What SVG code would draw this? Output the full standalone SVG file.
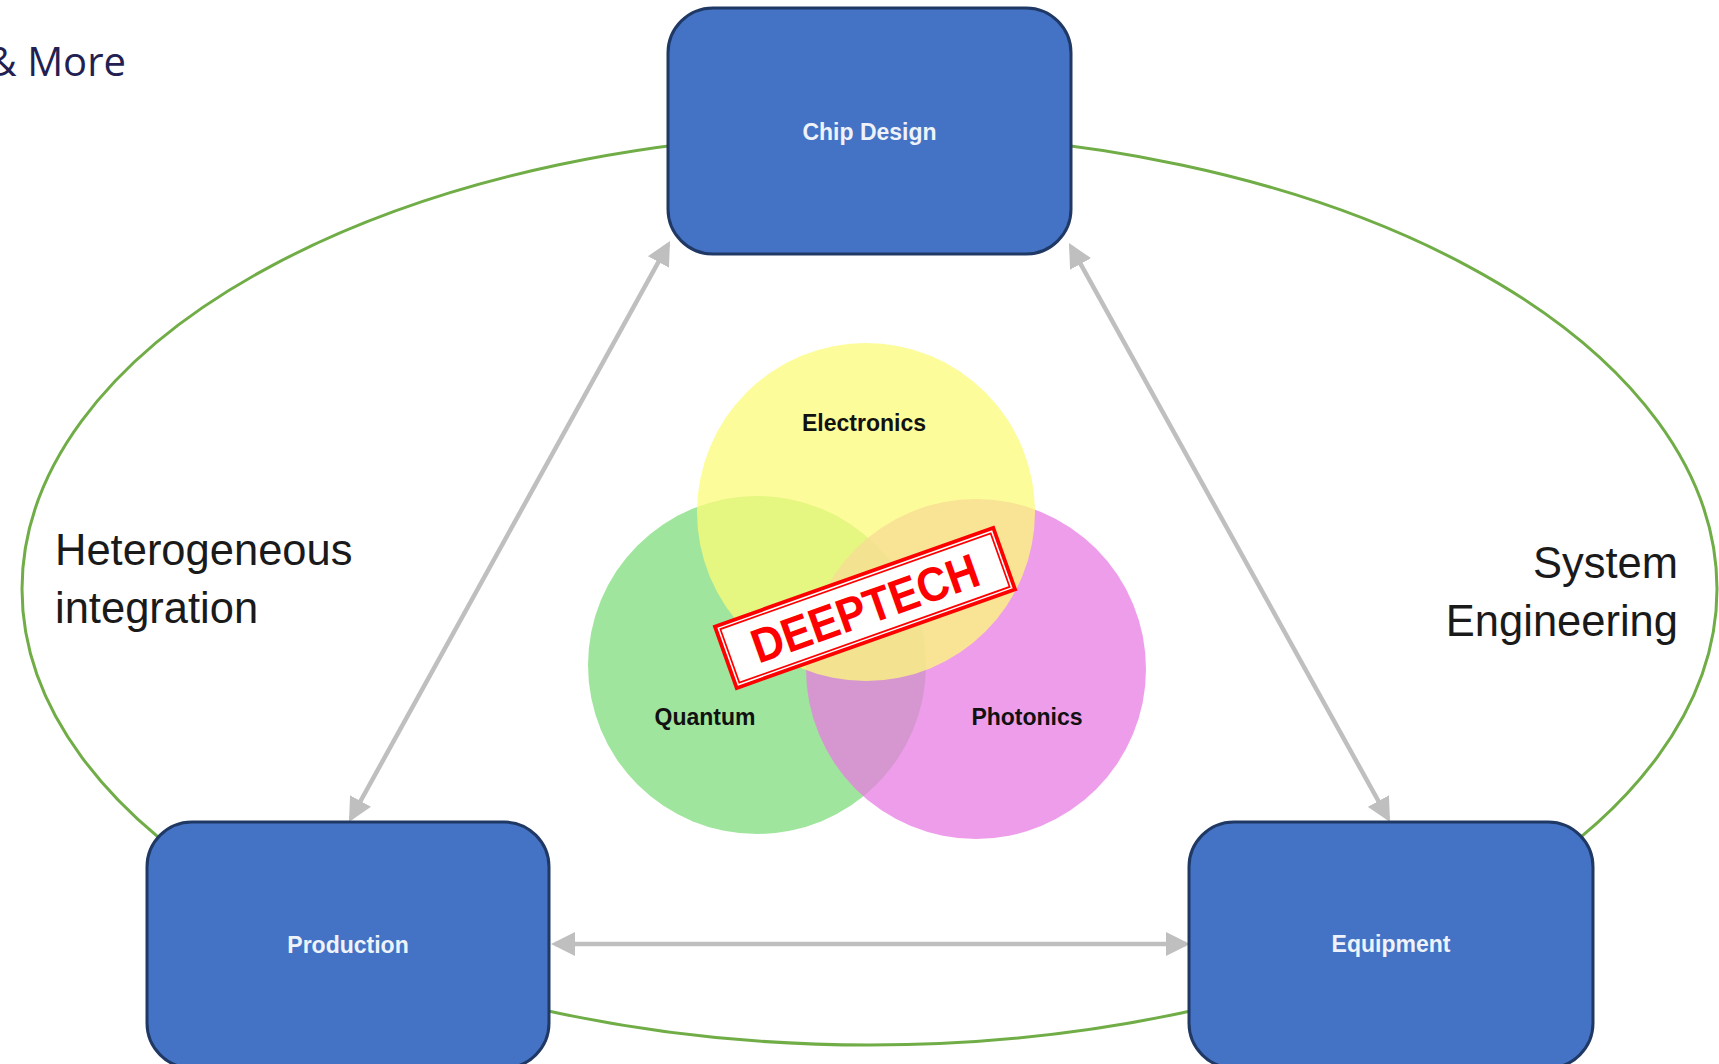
<svg xmlns="http://www.w3.org/2000/svg" width="1719" height="1064" viewBox="0 0 1719 1064">
<style>
.node{fill:#4472C4;stroke:#1F3864;stroke-width:3}
.nlabel{font-family:"Liberation Sans",Arial,sans-serif;font-weight:bold;font-size:23px;fill:#EEF2FA;text-anchor:middle}
.vlabel{font-family:"Liberation Sans",Arial,sans-serif;font-weight:bold;font-size:23px;fill:#111111;text-anchor:middle}
.big{font-family:"Liberation Sans",Arial,sans-serif;font-size:43.5px;fill:#1a1a1a}
.conn{stroke:#BFBFBF;stroke-width:4.5;fill:none;marker-start:url(#ah);marker-end:url(#ah)}
</style>
<defs>
<marker id="ah" markerWidth="24" markerHeight="24" refX="20" refY="12" orient="auto-start-reverse" markerUnits="userSpaceOnUse">
<path d="M0,0 L24,12 L0,24 z" fill="#BFBFBF"/>
</marker>
</defs>
<rect width="1719" height="1064" fill="#ffffff"/>
<text x="126" y="76" text-anchor="end" font-family="'Open Sans',sans-serif" font-size="40" fill="#231F52">&amp; More</text>
<g id="cycle">
<ellipse cx="869.5" cy="589" rx="847.5" ry="456" fill="none" stroke="#70AD47" stroke-width="3"/>
</g>
<g id="connectors">
<line class="conn" x1="668.1" y1="244.5" x2="350.9" y2="818.5"/>
<line class="conn" x1="1070.9" y1="246.5" x2="1388.1" y2="818.5"/>
<line class="conn" x1="555" y1="944" x2="1186" y2="944"/>
</g>
<g id="chip-design">
<rect class="node" x="668" y="8" width="403" height="246" rx="45"/>
<text class="nlabel" x="869.5" y="140">Chip Design</text>
</g>
<g id="production">
<rect class="node" x="147" y="822" width="402" height="246" rx="45"/>
<text class="nlabel" x="348" y="953">Production</text>
</g>
<g id="equipment">
<rect class="node" x="1189" y="822" width="404" height="246" rx="45"/>
<text class="nlabel" x="1391" y="952">Equipment</text>
</g>
<g id="venn">
<circle id="quantum" cx="757" cy="665" r="169" fill="#A0E59D"/>
<circle id="photonics" cx="976" cy="669" r="170" fill="#E87CE3" fill-opacity="0.75"/>
<circle id="electronics" cx="866" cy="512" r="169" fill="#FCFB78" fill-opacity="0.75"/>
<text class="vlabel" x="864" y="431">Electronics</text>
<text class="vlabel" x="705" y="725">Quantum</text>
<text class="vlabel" x="1027" y="725">Photonics</text>
</g>
<g id="deeptech" transform="translate(865,608) rotate(-19.5)">
<rect x="-146" y="-31" width="292" height="62" fill="#ffffff" stroke="#FF0000" stroke-width="7"/>
<rect x="-145" y="-30" width="290" height="60" fill="none" stroke="#ffffff" stroke-width="1.5"/>
<text x="0" y="17" text-anchor="middle" font-family="'Liberation Sans',Arial,sans-serif" font-weight="bold" font-size="48" fill="#FF0000" textLength="238" lengthAdjust="spacingAndGlyphs">DEEPTECH</text>
</g>
<g id="labels">
<text class="big" x="55" y="565">Heterogeneous</text>
<text class="big" x="55" y="623">integration</text>
<text class="big" x="1678" y="578" text-anchor="end">System</text>
<text class="big" x="1678" y="636" text-anchor="end">Engineering</text>
</g>
</svg>
